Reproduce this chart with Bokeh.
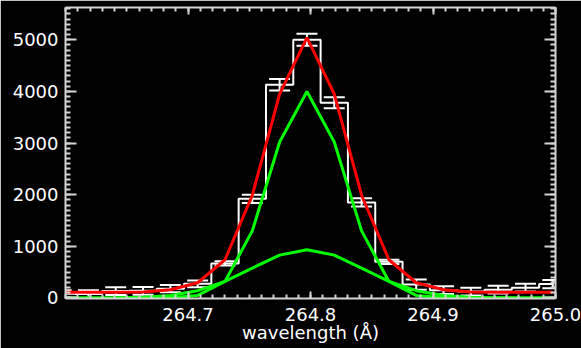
from bokeh.plotting import figure
from bokeh.models import LinearAxis, FixedTicker, Range1d
from bokeh.embed import file_html
from bokeh.resources import INLINE

# ---- data ----
wavelength = [264.5964, 264.6187, 264.6410, 264.6633, 264.6856, 264.7079, 264.7302,
              264.7525, 264.7748, 264.7971, 264.8194, 264.8417, 264.8640, 264.8863,
              264.9086, 264.9309, 264.9532, 264.9755, 264.9978]
counts = [80, 75, 135, 140, 180, 275, 670, 1920, 4130, 5000, 3780, 1850, 700, 260,
          150, 125, 160, 200, 270]
errors = [70, 75, 75, 75, 70, 65, 40, 80, 110, 115, 105, 80, 40, 100, 75, 75, 75, 75, 80]
fit_total = [110, 110, 112, 118, 160, 295, 740, 1990, 3950, 5040, 3950, 1990, 740, 295,
             160, 118, 112, 110, 110]
comp_narrow = [0, 0, 0, 0, 4, 50, 320, 1300, 3020, 4000, 3020, 1300, 320, 50, 4, 0, 0, 0, 0]
comp_broad = [0, 1, 3, 13, 48, 141, 322, 580, 830, 935, 830, 580, 322, 141, 48, 13, 3, 1, 0]

x_ticks = [264.7, 264.8, 264.9, 265.0]
x_tick_labels = ["264.7", "264.8", "264.9", "265.0"]
y_ticks = [0, 1000, 2000, 3000, 4000, 5000]
y_tick_labels = ["0", "1000", "2000", "3000", "4000", "5000"]
x_title = "wavelength (Å)"

FONT = "DejaVu Sans"
AXC = "#d4d4d4"

p = figure(width=581, height=348,
           x_range=Range1d(264.6, 265.0), y_range=Range1d(-10, 5625),
           output_backend="svg", toolbar_location=None,
           x_axis_location=None, y_axis_location=None,
           background_fill_color="black", border_fill_color="black",
           min_border_left=65, min_border_right=26, min_border_top=7, min_border_bottom=50)
p.outline_line_color = None
p.grid.grid_line_color = None

x_minor = [round(264.6 + 0.01 * i, 2) for i in range(41)]
y_minor = list(range(0, 5700, 100))


def make_axis(is_x, with_labels, major_len, minor_len):
    if is_x:
        ticker = FixedTicker(ticks=x_ticks, minor_ticks=x_minor)
        overrides = {t: l for t, l in zip(x_ticks, x_tick_labels)}
    else:
        ticker = FixedTicker(ticks=y_ticks, minor_ticks=y_minor)
        overrides = {t: l for t, l in zip(y_ticks, y_tick_labels)}
    ax = LinearAxis(ticker=ticker, major_label_overrides=overrides,
                    axis_line_color=AXC, axis_line_width=2,
                    major_tick_line_color=AXC, major_tick_line_width=2,
                    minor_tick_line_color=AXC, minor_tick_line_width=2,
                    major_tick_in=major_len, major_tick_out=0,
                    minor_tick_in=minor_len, minor_tick_out=0,
                    major_label_text_font=FONT)
    if with_labels:
        ax.major_label_text_color = "white"
        ax.major_label_text_font_size = "18px"
        ax.major_label_standoff = 9 if is_x else 7
    else:
        ax.major_label_text_color = None
        ax.major_label_text_font_size = "0px"
        ax.major_label_standoff = 0
    return ax


bottom = make_axis(True, True, 7, 4)
bottom.axis_label = x_title
bottom.axis_label_text_color = "white"
bottom.axis_label_text_font = FONT
bottom.axis_label_text_font_size = "18px"
bottom.axis_label_text_font_style = "normal"
bottom.axis_label_standoff = -2
p.add_layout(bottom, "below")
p.add_layout(make_axis(True, False, 7, 4), "above")
p.add_layout(make_axis(False, True, 11, 5), "left")
p.add_layout(make_axis(False, False, 11, 5), "right")

# histogram
p.step(wavelength, counts, mode="center", line_color="white", line_width=2)
# error bars
upper = [c + e for c, e in zip(counts, errors)]
lower = [c - e for c, e in zip(counts, errors)]
p.segment(x0=wavelength, y0=lower, x1=wavelength, y1=upper, line_color="white", line_width=2)
p.dash(wavelength, upper, size=21, line_color="white", line_width=2)
p.dash(wavelength, lower, size=21, line_color="white", line_width=2)

# fit and components
p.line(wavelength, fit_total, line_color="#ff0000", line_width=3)
p.line(wavelength, comp_narrow, line_color="#00ff00", line_width=3)
p.line(wavelength, comp_broad, line_color="#00ff00", line_width=3)

open("out.html", "w").write(file_html(p, INLINE))
